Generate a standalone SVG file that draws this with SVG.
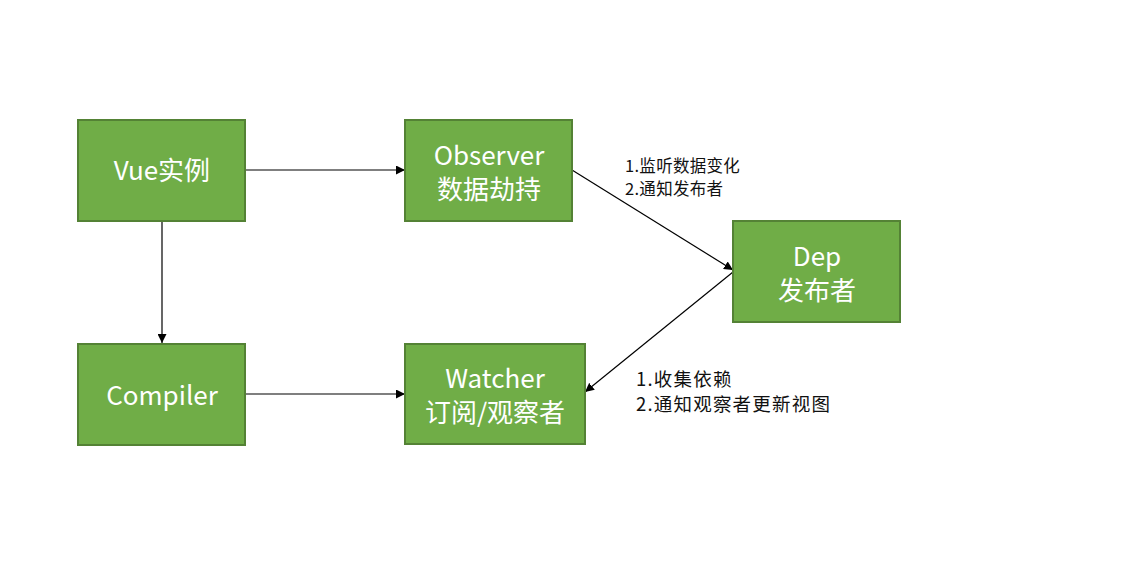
<svg xmlns="http://www.w3.org/2000/svg" width="1124" height="584" viewBox="0 0 1124 584">
<style>
.box{fill:#70AD47;stroke:#548235;stroke-width:2}
.t{fill:#ffffff;font-family:"Microsoft YaHei","Noto Sans CJK SC",sans-serif;font-size:26px;text-anchor:middle}
.lbl{fill:#111111;font-family:"Microsoft YaHei","Noto Sans CJK SC",sans-serif}
.c{stroke:#000;stroke-width:1.2;fill:none;marker-end:url(#ah)}
</style>
<defs>
<marker id="ah" viewBox="0 0 10 10" refX="10" refY="5" markerWidth="9" markerHeight="9" markerUnits="userSpaceOnUse" orient="auto">
<path d="M0,0 L10,5 L0,10 z" fill="#000"/>
</marker>
</defs>
<rect width="1124" height="584" fill="#fff"/>
<g id="connectors">
<line class="c" x1="245" y1="170" x2="405" y2="170"/>
<line class="c" x1="162" y1="221" x2="162" y2="343"/>
<line class="c" x1="245" y1="394" x2="405" y2="394"/>
<line class="c" x1="572" y1="170" x2="733" y2="270"/>
<line class="c" x1="733" y1="272" x2="585" y2="392"/>
</g>
<g id="vue"><rect class="box" x="78" y="120" width="167" height="101"/><text class="t" x="162" y="180">Vue实例</text></g>
<g id="observer"><rect class="box" x="405" y="120" width="167" height="101"/><text class="t" x="489" y="165">Observer</text><text class="t" x="489" y="199">数据劫持</text></g>
<g id="dep"><rect class="box" x="733" y="221" width="167" height="101"/><text class="t" x="817" y="266">Dep</text><text class="t" x="817" y="300">发布者</text></g>
<g id="compiler"><rect class="box" x="78" y="344" width="167" height="101"/><text class="t" x="162" y="405">Compiler</text></g>
<g id="watcher"><rect class="box" x="405" y="344" width="180" height="100"/><text class="t" x="495" y="388">Watcher</text><text class="t" x="495" y="422">订阅/观察者</text></g>
<g id="labels">
<text class="lbl" x="625" y="172" font-size="16.5" letter-spacing="0.3">1.监听数据变化</text>
<text class="lbl" x="625" y="195" font-size="16.5" letter-spacing="0.3">2.通知发布者</text>
<text class="lbl" x="636" y="386" font-size="18.5" letter-spacing="1.2">1.收集依赖</text>
<text class="lbl" x="636" y="411" font-size="18.5" letter-spacing="1.2">2.通知观察者更新视图</text>
</g>
</svg>
